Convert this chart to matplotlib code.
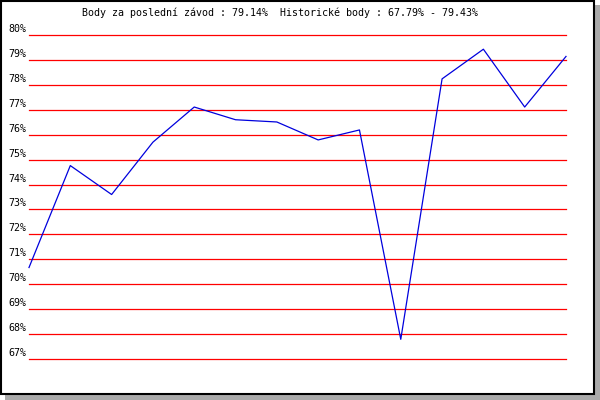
import matplotlib.pyplot as plt
from matplotlib.patches import Rectangle

# race results in percent
body = [70.67, 74.76, 73.6, 75.7, 77.11, 76.6, 76.51, 75.79, 76.19, 67.79, 78.24, 79.43, 77.11, 79.14]
levels = list(range(67, 81))
labels = [f"{v}%" for v in levels]
title = "Body za poslední závod : 79.14%  Historické body : 67.79% - 79.43%"

W, H = 600, 400
fig = plt.figure(figsize=(W / 100, H / 100), dpi=100)
fig.patch.set_facecolor("white")

# shadow + framed box
fig.patches.append(Rectangle((5 / W, 0), 595 / W, 395 / H, transform=fig.transFigure,
                             facecolor="#aaaaaa", edgecolor="none", zorder=0))
fig.patches.append(Rectangle((1 / W, 6 / H), 593 / W, 393 / H, transform=fig.transFigure,
                             facecolor="white", edgecolor="black", linewidth=1.5, zorder=1))

# plot area: x 29..566 px, y 35..359 px (from top)
left, right = 29, 566
top, bottom = 35, 359
ax = fig.add_axes([left / W, (H - bottom) / H, (right - left) / W, (bottom - top) / H])
ax.set_zorder(5)
ax.patch.set_alpha(0)
ax.set_xlim(0, len(body) - 1)
ax.set_ylim(levels[0], levels[-1])
ax.axis("off")

for v in levels:
    ax.axhline(v, color="#ff0000", linewidth=0.9, clip_on=False)

ax.plot(range(len(body)), body, color="#0000dd", linewidth=0.9, clip_on=False, zorder=3)

# y labels, right-aligned left of the plot, slightly above each line
for v, lab in zip(levels, labels):
    ax.annotate(lab, xy=(0, v), xycoords=("axes fraction", "data"),
                xytext=(-3, 6), textcoords="offset pixels",
                ha="right", va="center", fontsize=7.2, family="DejaVu Sans Mono")

fig.text(82 / W, 1 - 13 / H, title, ha="left", va="center",
         fontsize=7.2, family="DejaVu Sans Mono", zorder=5)

plt.savefig("out.png", dpi=100)
